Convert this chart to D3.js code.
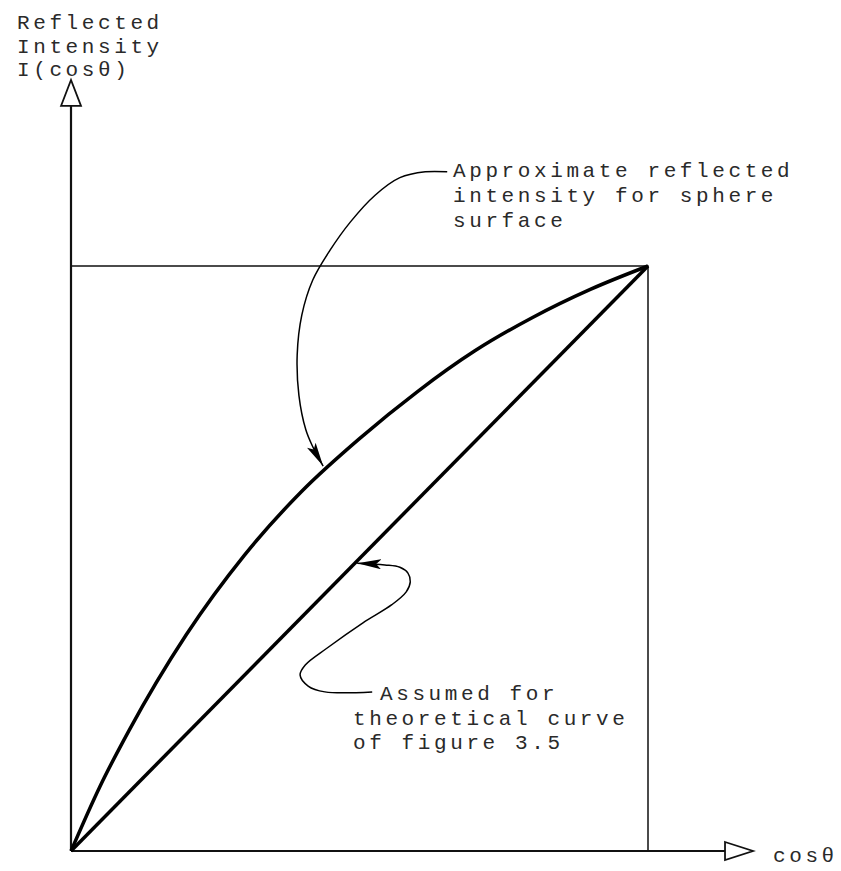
<!DOCTYPE html>
<html>
<head>
<meta charset="utf-8">
<script src="https://cdn.jsdelivr.net/npm/d3@7"></script>
<style>
  body { margin: 0; background: #fff; }
  svg text { font-family: "Liberation Mono", "DejaVu Sans Mono", monospace; font-size: 21px; letter-spacing: 3.6px; fill: #2a2a2a; }
</style>
</head>
<body>
<div id="chart"></div>
<script>
// Chart values (cos theta on x, I(cos theta) on y, both normalised to 0..1)
var sphereX = [0, 0.05, 0.1, 0.2, 0.3, 0.4, 0.5, 0.6, 0.7, 0.8, 0.9, 1];
var sphereY = [0, 0.11, 0.205, 0.37, 0.505, 0.615, 0.705, 0.785, 0.855, 0.912, 0.96, 1];
var assumedX = [0, 1];
var assumedY = [0, 1];

// leader lines for the two notes, in data units
var note1X = [0.652, 0.614, 0.570, 0.527, 0.484, 0.449, 0.419, 0.400, 0.392, 0.395, 0.407, 0.419, 0.437];
var note1Y = [1.161, 1.161, 1.151, 1.121, 1.075, 1.027, 0.976, 0.916, 0.848, 0.779, 0.720, 0.691, 0.658];
var note2X = [0.522, 0.440, 0.411, 0.397, 0.406, 0.444, 0.506, 0.556, 0.581, 0.588, 0.584, 0.570, 0.544, 0.496];
var note2Y = [0.272, 0.272, 0.282, 0.301, 0.318, 0.347, 0.390, 0.421, 0.443, 0.460, 0.475, 0.485, 0.489, 0.492];

// text
var yTitle = ["Reflected", "Intensity", "I(cos\u03b8)"];
var xTitle = "cos\u03b8";
var note1Text = ["Approximate reflected", "intensity for sphere", "surface"];
var note2Text = ["Assumed for", "theoretical curve", "of figure 3.5"];

var svgWidth = 841;
var svgHeight = 871;

var svg = d3.select("#chart")
  .append("svg")
  .attr("width", svgWidth)
  .attr("height", svgHeight);

// scales: origin at (71, 851), unit box corner at (648, 266)
var x = d3.scaleLinear().domain([0, 1]).range([71, 648]);
var y = d3.scaleLinear().domain([0, 1]).range([851, 266]);

// axis extents beyond the unit box
var xAxisEnd = 1.182;
var yAxisEnd = 1.318;

// axes
svg.append("line")
  .attr("x1", x(0)).attr("y1", y(0))
  .attr("x2", x(xAxisEnd) - 28).attr("y2", y(0))
  .attr("stroke", "#111").attr("stroke-width", 2);

svg.append("line")
  .attr("x1", x(0)).attr("y1", y(0))
  .attr("x2", x(0)).attr("y2", y(yAxisEnd) + 26)
  .attr("stroke", "#111").attr("stroke-width", 2.2);

// hollow arrow heads
var xa = x(xAxisEnd), ya = y(yAxisEnd);
svg.append("path")
  .attr("d", `M${xa - 28},${y(0) - 9} L${xa},${y(0)} L${xa - 28},${y(0) + 9} Z`)
  .attr("fill", "#fff").attr("stroke", "#111").attr("stroke-width", 1.8);

svg.append("path")
  .attr("d", `M${x(0) - 10},${ya + 26} L${x(0)},${ya} L${x(0) + 10},${ya + 26} Z`)
  .attr("fill", "#fff").attr("stroke", "#111").attr("stroke-width", 1.8);

// unit box (top and right sides)
svg.append("path")
  .attr("d", `M${x(0)},${y(1)} L${x(1)},${y(1)} L${x(1)},${y(0)}`)
  .attr("fill", "none").attr("stroke", "#111").attr("stroke-width", 1.5);

// curves
var line = d3.line()
  .x(d => x(d[0]))
  .y(d => y(d[1]));

svg.append("path")
  .datum(d3.zip(assumedX, assumedY))
  .attr("d", line)
  .attr("fill", "none").attr("stroke", "#000").attr("stroke-width", 3.5);

svg.append("path")
  .datum(d3.zip(sphereX, sphereY))
  .attr("d", line.curve(d3.curveMonotoneX))
  .attr("fill", "none").attr("stroke", "#000").attr("stroke-width", 3.5)
  .attr("stroke-linejoin", "round");

// arrow marker for the leaders
svg.append("defs").append("marker")
  .attr("id", "tip")
  .attr("viewBox", "0 0 24 10")
  .attr("refX", 24).attr("refY", 5)
  .attr("markerWidth", 24).attr("markerHeight", 10)
  .attr("markerUnits", "userSpaceOnUse")
  .attr("orient", "auto")
  .append("path")
  .attr("d", "M0,0 L24,5 L0,10 L5,5 Z")
  .attr("fill", "#000");

var leader = d3.line()
  .x(d => x(d[0]))
  .y(d => y(d[1]))
  .curve(d3.curveCatmullRom.alpha(0.5));

svg.append("path")
  .datum(d3.zip(note1X, note1Y))
  .attr("d", leader)
  .attr("fill", "none").attr("stroke", "#000").attr("stroke-width", 1.5)
  .attr("marker-end", "url(#tip)");

svg.append("path")
  .datum(d3.zip(note2X, note2Y))
  .attr("d", leader)
  .attr("fill", "none").attr("stroke", "#000").attr("stroke-width", 1.5)
  .attr("marker-end", "url(#tip)");

// labels
svg.selectAll(".ytitle")
  .data(yTitle)
  .enter().append("text")
  .attr("class", "ytitle")
  .attr("x", 17)
  .attr("y", (d, i) => 29 + i * 23.5)
  .text(d => d);

svg.append("text")
  .attr("x", x(xAxisEnd) + 20)
  .attr("y", y(0) + 11)
  .text(xTitle);

svg.selectAll(".note1")
  .data(note1Text)
  .enter().append("text")
  .attr("class", "note1")
  .attr("x", 453)
  .attr("y", (d, i) => 177 + i * 25)
  .text(d => d);

svg.selectAll(".note2")
  .data(note2Text)
  .enter().append("text")
  .attr("class", "note2")
  .attr("x", (d, i) => i === 0 ? 380 : 353)
  .attr("y", (d, i) => 700 + i * 24.5)
  .text(d => d);
</script>
</body>
</html>
